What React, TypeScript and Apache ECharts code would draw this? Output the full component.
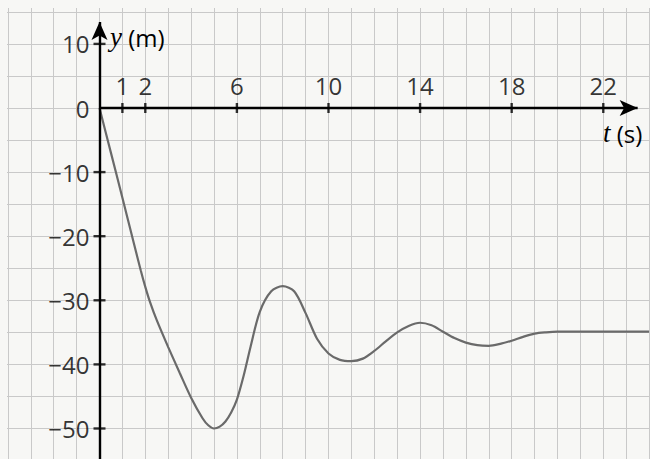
import React, { useEffect, useRef } from "react";
import * as echarts from "echarts";

// curve samples: time t (s) and displacement y (m)
const curveT = [0, 0.5, 1, 1.5, 1.8, 2, 2.2, 2.5, 3, 3.5, 4, 4.5, 4.75, 5, 5.25, 5.5, 5.75, 6, 6.3, 6.6, 7, 7.5, 8, 8.5, 9, 9.5, 10, 10.5, 11, 11.5, 12, 12.5, 13, 13.5, 14, 14.5, 15, 15.5, 16, 16.5, 17, 17.5, 18, 18.5, 19, 19.5, 20, 21, 22, 23, 24];
const curveY = [0, -7, -14, -21.1, -25.3, -27.9, -30.2, -33.1, -37.3, -41.3, -45.2, -48.4, -49.5, -50, -49.7, -48.9, -47.5, -45.5, -41.7, -37.2, -31.8, -28.6, -27.8, -28.6, -32, -36, -38.3, -39.3, -39.5, -39.1, -37.9, -36.4, -35, -34, -33.5, -33.9, -34.9, -35.9, -36.6, -37, -37.1, -36.8, -36.3, -35.7, -35.2, -35, -34.9, -34.9, -34.9, -34.9, -34.9];

const xTickValues = [1, 2, 6, 10, 14, 18, 22];
const yTickValues = [10, -10, -20, -30, -40, -50];
const yLabelValues = [10, 0, -10, -20, -30, -40, -50];

// visible window of the graph paper
const xRange = [-4.345, 24.04];
const yRange = [-54.76, 16.85];
// graph-paper rulings: every 1 s and every 5 m
const gridXValues: number[] = [];
for (let v = -4; v <= 24; v += 1) gridXValues.push(v);
const gridYValues: number[] = [];
for (let v = -50; v <= 15; v += 5) gridYValues.push(v);

const xArrowEnd = 23.5;
const yArrowEnd = 13.4;

const PAPER = "#f7f7f5";
const INK = "#000000";
const FONT = "Open Sans";

export default function App() {
  const ref = useRef<HTMLDivElement>(null);

  useEffect(() => {
    if (!ref.current) return;
    const chart = echarts.init(ref.current, undefined, { renderer: "svg" });
    const curve = curveT.map((t, i) => [t, curveY[i]]);
    const fmtY = (v: number) => (v < 0 ? "\u2212" + Math.abs(v) : String(v));
    const gridStyle = { color: "#c9c9c9", width: 1, type: "solid" };

    const option: any = {
      animation: false,
      backgroundColor: PAPER,
      grid: { left: 0, right: 0, top: 0, bottom: 0, containLabel: false },
      xAxis: {
        type: "value",
        min: xRange[0],
        max: xRange[1],
        axisLine: { show: false },
        axisTick: { show: false },
        axisLabel: { show: false },
        splitLine: { show: false },
      },
      yAxis: {
        type: "value",
        min: yRange[0],
        max: yRange[1],
        axisLine: { show: false },
        axisTick: { show: false },
        axisLabel: { show: false },
        splitLine: { show: false },
      },
      graphic: [
        { type: "rect", z: 1, shape: { x: 0, y: 0, width: 650, height: 8 }, style: { fill: PAPER } },
        { type: "rect", z: 1, shape: { x: 0, y: 0, width: 7, height: 459 }, style: { fill: PAPER } },
        {
          type: "text",
          z: 100,
          x: 110,
          y: 37,
          style: {
            text: "{i|y} (m)",
            fill: INK,
            fontFamily: FONT,
            fontSize: 24,
            verticalAlign: "middle",
            align: "left",
            rich: { i: { fontFamily: "Liberation Serif", fontStyle: "italic", fontSize: 27, fill: INK } },
          },
        },
        {
          type: "text",
          z: 100,
          x: 603,
          y: 133,
          style: {
            text: "{i|t} (s)",
            fill: INK,
            fontFamily: FONT,
            fontSize: 24,
            verticalAlign: "middle",
            align: "left",
            rich: { i: { fontFamily: "Liberation Serif", fontStyle: "italic", fontSize: 27, fill: INK } },
          },
        },
      ],
      series: [
        {
          type: "line",
          data: [[0, 0]],
          symbol: "none",
          lineStyle: { width: 0 },
          silent: true,
          z: 0,
          markLine: {
            z: 0,
            silent: true,
            animation: false,
            symbol: ["none", "none"],
            label: { show: false },
            lineStyle: gridStyle,
            emphasis: { disabled: true },
            data: [
              ...gridXValues.map((v) => ({ xAxis: v })),
              ...gridYValues.map((v) => ({ yAxis: v })),
            ],
          },
        },
        {
          type: "line",
          data: curve,
          smooth: 0.3,
          showSymbol: false,
          symbol: "none",
          lineStyle: { color: "#6a6a6a", width: 2.2 },
          silent: true,
          z: 3,
          markLine: {
            z: 5,
            silent: true,
            animation: false,
            symbol: ["none", "arrow"],
            symbolSize: [12, 18],
            label: { show: false },
            lineStyle: { color: INK, width: 2.4, type: "solid" },
            emphasis: { disabled: true },
            data: [
              [{ coord: [0, 0] }, { coord: [xArrowEnd, 0] }],
              [{ coord: [0, yRange[0]] }, { coord: [0, yArrowEnd] }],
            ],
          },
        },
        {
          type: "scatter",
          data: xTickValues.map((v) => [v, 0]),
          symbol: "rect",
          symbolSize: [2.4, 10],
          itemStyle: { color: INK },
          silent: true,
          z: 6,
          label: {
            show: true,
            position: "top",
            distance: 6,
            formatter: (p: any) => String(p.value[0]),
            color: INK,
            fontFamily: FONT,
            fontSize: 24,
          },
        },
        {
          type: "scatter",
          data: yTickValues.map((v) => [0, v]),
          symbol: "rect",
          symbolSize: [12, 2.4],
          itemStyle: { color: INK },
          silent: true,
          z: 6,
        },
        {
          type: "scatter",
          data: yLabelValues.map((v) => [0, v]),
          symbolSize: 0,
          itemStyle: { color: INK },
          silent: true,
          z: 6,
          label: {
            show: true,
            position: "left",
            distance: 10,
            formatter: (p: any) => fmtY(p.value[1]),
            color: INK,
            fontFamily: FONT,
            fontSize: 24,
          },
        },
      ],
    };
    chart.setOption(option);
    return () => chart.dispose();
  }, []);

  return (
    <div
      ref={ref}
      style={{ position: "absolute", left: 0, top: 0, width: 650, height: 459 }}
    />
  );
}
